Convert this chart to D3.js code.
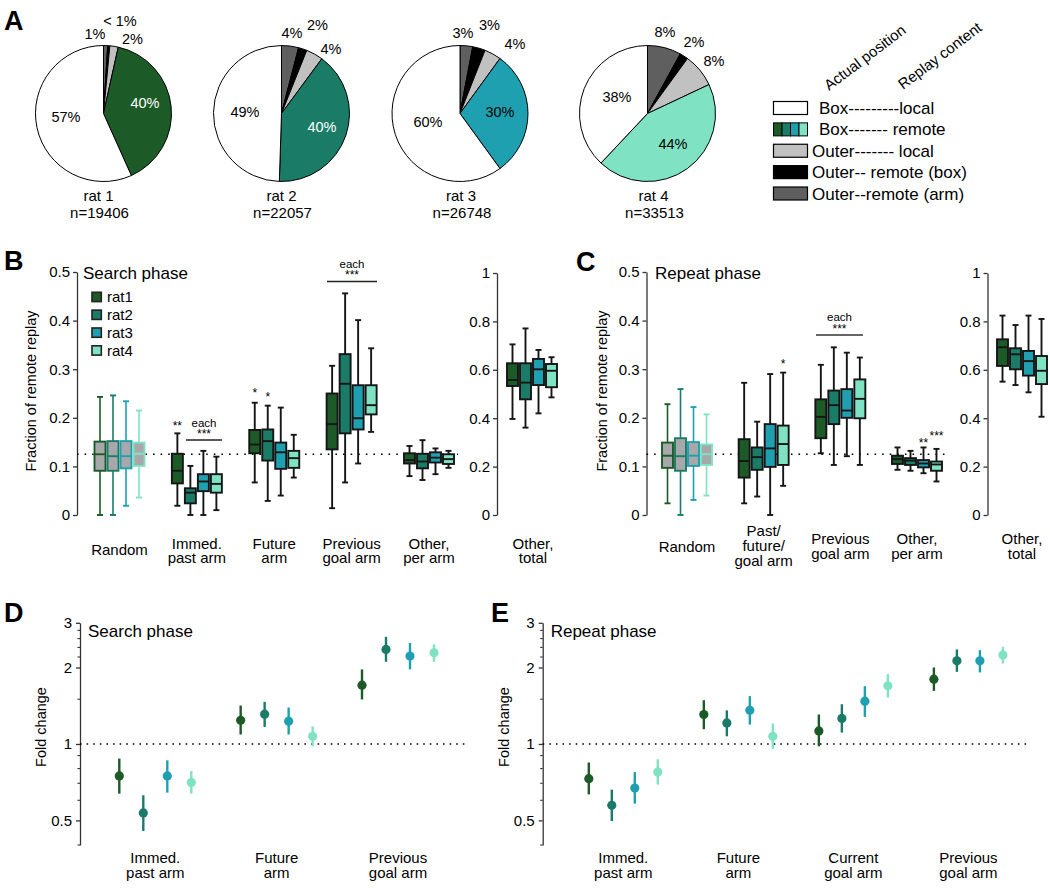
<!DOCTYPE html>
<html><head><meta charset="utf-8">
<script src="https://cdn.jsdelivr.net/npm/d3@7"></script>
<style>body{margin:0;background:#fff}</style>
</head><body>
<script>
// ================= DATA =================
const rats = ["rat1","rat2","rat3","rat4"];
const ratColors = ["#1c5b28","#1a7c67","#1fa0b0","#7fe3c3"];

// Panel A – pies (percent of replay events)
const pieNames = ["rat 1","rat 2","rat 3","rat 4"];
const pieCounts = ["n=19406","n=22057","n=26748","n=33513"];
const pieOuterArm   = [1, 4, 3, 8];
const pieOuterBox   = [0.5, 2, 3, 2];
const pieOuterLocal = [2, 4, 4, 8];
const pieBoxRemote  = [40, 40, 30, 44];
const pieBoxLocal   = [57, 49, 60, 38];
const pieLabels = [["1%","< 1%","2%","40%","57%"],["4%","2%","4%","40%","49%"],["3%","3%","4%","30%","60%"],["8%","2%","8%","44%","38%"]];
const legendLabels = ["Box---------local","Box------- remote","Outer------- local","Outer-- remote (box)","Outer--remote (arm)"];
const legendHeaders = ["Actual position","Replay content"];

// Panel B – Search phase, box stats per rat: [low whisker, Q1, median, Q3, high whisker]
const bCategories = [["Random"],["Immed.","past arm"],["Future","arm"],["Previous","goal arm"],["Other,","per arm"]];
const bRandom     = [[0,0.091,0.125,0.151,0.243],[0,0.091,0.121,0.152,0.246],[0.019,0.096,0.121,0.152,0.234],[0.036,0.101,0.126,0.149,0.215]];
const bImmedPast  = [[0.019,0.065,0.091,0.126,0.168],[0,0.024,0.046,0.055,0.101],[0,0.049,0.069,0.084,0.132],[0.010,0.046,0.064,0.084,0.120]];
const bFuture     = [[0.067,0.127,0.145,0.175,0.231],[0.029,0.112,0.152,0.176,0.225],[0.040,0.095,0.129,0.149,0.221],[0.077,0.097,0.117,0.132,0.165]];
const bPrevGoal   = [[0.014,0.135,0.187,0.250,0.307],[0.067,0.168,0.270,0.331,0.456],[0.106,0.176,0.199,0.267,0.401],[0.171,0.207,0.226,0.267,0.343]];
const bOtherPerArm= [[0.080,0.106,0.113,0.127,0.142],[0.072,0.096,0.110,0.126,0.154],[0.084,0.108,0.118,0.129,0.137],[0.097,0.105,0.115,0.125,0.132]];
const bOtherTotalLabel = ["Other,","total"];
const bOtherTotal = [[0.397,0.533,0.558,0.627,0.705],[0.361,0.478,0.547,0.627,0.771],[0.420,0.537,0.602,0.645,0.682],[0.486,0.528,0.596,0.624,0.652]];

// Panel C – Repeat phase
const cCategories = [["Random"],["Past/","future/","goal arm"],["Previous","goal arm"],["Other,","per arm"]];
const cRandom        = [[0.024,0.097,0.122,0.149,0.228],[0,0.091,0.121,0.158,0.259],[0.031,0.101,0.122,0.150,0.222],[0.040,0.103,0.125,0.145,0.207]];
const cPastFutGoal   = [[0.024,0.077,0.111,0.156,0.272],[0.038,0.093,0.119,0.139,0.192],[0,0.099,0.137,0.187,0.290],[0.060,0.103,0.146,0.184,0.293]];
const cPrevGoal      = [[0.127,0.158,0.202,0.238,0.309],[0.103,0.187,0.226,0.256,0.345],[0.121,0.200,0.215,0.259,0.334],[0.103,0.199,0.239,0.279,0.324]];
const cOtherPerArm   = [[0.093,0.105,0.115,0.122,0.139],[0.091,0.103,0.112,0.117,0.132],[0.086,0.098,0.106,0.113,0.139],[0.069,0.091,0.104,0.110,0.136]];
const cOtherTotal    = [[0.551,0.616,0.693,0.726,0.824],[0.537,0.602,0.664,0.689,0.785],[0.507,0.576,0.636,0.678,0.824],[0.406,0.541,0.596,0.657,0.810]];

// tick labels
const boxTicks = [0,0.1,0.2,0.3,0.4,0.5];
const totalTicks = [0,0.2,0.4,0.6,0.8,1];
const foldTicks = [0.5,1,2,3];
const foldMinorTicks = [0.4,0.6,0.7,0.8,0.9,1.5,2.2,2.4,2.6,2.8];

// Panel D – Search phase fold change per rat: [mean, low CI, high CI]
const dCategories = [["Immed.","past arm"],["Future","arm"],["Previous","goal arm"]];
const dImmedPast = [[0.748,0.637,0.876],[0.535,0.454,0.628],[0.748,0.643,0.862],[0.705,0.637,0.782]];
const dFuture    = [[1.24,1.089,1.417],[1.31,1.167,1.465],[1.229,1.089,1.392],[1.072,0.979,1.174]];
const dPrevGoal  = [[1.704,1.497,1.966],[2.357,2.106,2.643],[2.218,1.966,2.50],[2.285,2.106,2.466]];

// Panel E – Repeat phase fold change
const eCategories = [["Immed.","past arm"],["Future","arm"],["Current","goal arm"],["Previous","goal arm"]];
const eImmedPast   = [[0.730,0.633,0.845],[0.573,0.497,0.661],[0.670,0.582,0.775],[0.775,0.692,0.870]];
const eFuture      = [[1.306,1.143,1.487],[1.21,1.072,1.356],[1.356,1.192,1.543],[1.072,0.956,1.204]];
const eCurrentGoal = [[1.125,0.979,1.306],[1.26,1.109,1.434],[1.474,1.278,1.689],[1.694,1.524,1.884]];
const ePrevGoal    = [[1.80,1.618,2.001],[2.126,1.923,2.357],[2.126,1.913,2.342],[2.238,2.075,2.413]];

// ================= LAYOUT / DRAW =================
const FONT = '"Liberation Sans", Arial, Helvetica, sans-serif';
const svg = d3.select("body").append("svg").attr("width",1050).attr("height",889)
  .style("background","#fff").style("font-family",FONT);

function txt(g,x,y,s,size,anchor,fill,weight){
  return g.append("text").attr("x",x).attr("y",y).attr("font-size",size)
    .attr("text-anchor",anchor||"middle").attr("fill",fill||"#000")
    .attr("font-weight",weight||"normal").text(s);
}
function multiLine(g,x,ys,lines,size){
  lines.forEach((l,i)=>txt(g,x,ys[i],l,size));
}

// panel letters
[["A",4,30],["B",4,270],["C",576,271],["D",4,622],["E",491,622]].forEach(p=>txt(svg,p[1],p[2],p[0],27,"start","#000","bold"));

// ---------- Panel A ----------
const pieLayout = {cx:[103.5,281.5,460,647.5], cy:113.5, r:68,
  labelOffsets:[
    [[-8.5,-79.5],[16.5,-93],[29,-74.5],[41.5,-11],[-37.5,3]],
    [[10.5,-81],[36,-88.5],[49.5,-65],[40.5,13],[-36.5,-2]],
    [[3,-81],[29.5,-88.5],[55,-70],[40,-2],[-32,8]],
    [[17.5,-81.5],[46.5,-71.5],[66.5,-52.5],[25.5,30.5],[-30.5,-16.5]]
  ],
  nameNudge:[-5,0,1,6]
};
const sliceFill = ["#5f5f5f","#000000","#c1c1c1",null,"#ffffff"];
const pieGen = d3.pie().sort(null).value(d=>d);
const arcGen = d3.arc().innerRadius(0).outerRadius(pieLayout.r);
pieNames.forEach((name,i)=>{
  const vals=[pieOuterArm[i],pieOuterBox[i],pieOuterLocal[i],pieBoxRemote[i],pieBoxLocal[i]];
  const g=svg.append("g").attr("transform",`translate(${pieLayout.cx[i]},${pieLayout.cy})`);
  g.selectAll("path").data(pieGen(vals)).join("path").attr("d",arcGen)
    .attr("fill",(d,j)=>j===3?ratColors[i]:sliceFill[j])
    .attr("stroke","#000").attr("stroke-width",1).attr("stroke-linejoin","round");
  pieLabels[i].forEach((l,j)=>{
    const o=pieLayout.labelOffsets[i][j];
    const white = (j===3 && i<2);
    txt(g,o[0],o[1]+5,l,14.5,"middle",white?"#fff":"#000");
  });
  txt(g,pieLayout.nameNudge[i],201-pieLayout.cy,name,15);
  txt(g,pieLayout.nameNudge[i]+1,218-pieLayout.cy,pieCounts[i],15);
});
// legend
const lg=svg.append("g");
const legY=d3.scalePoint().domain(d3.range(legendLabels.length)).range([108,193.5]);
const legFill=["#ffffff",null,"#c1c1c1","#000000","#5f5f5f"];
legendLabels.forEach((l,k)=>{
  const y=legY(k);
  if(k===1){
    const sx=d3.scaleBand().domain(rats).range([773.5,807.5]);
    rats.forEach((r,i)=>lg.append("rect").attr("x",sx(r)).attr("y",y-6.5).attr("width",sx.bandwidth()).attr("height",13)
      .attr("fill",ratColors[i]).attr("stroke","#000").attr("stroke-width",1));
  } else {
    lg.append("rect").attr("x",773.5).attr("y",y-6.5).attr("width",34).attr("height",13)
      .attr("fill",legFill[k]).attr("stroke","#000").attr("stroke-width",1.2);
  }
  txt(lg,k<2?819:812,y+6,l,17,"start");
});
txt(lg,0,0,legendHeaders[0],15,"start").attr("transform","translate(829,91) rotate(-37)");
txt(lg,0,0,legendHeaders[1],15,"start").attr("transform","translate(903,90) rotate(-37)");

// ---------- box plot helpers ----------
const inner = d3.scalePoint().domain(rats).range([-19.5,19.5]);
function drawBoxes(g,cx,y,data,random){
  data.forEach((d,i)=>{
    const x=cx+inner(rats[i]);
    const col = random?ratColors[i]:"#151515";
    const [lo,q1,med,q3,hi]=d;
    const sw = random?1.6:1.9;
    g.append("line").attr("x1",x).attr("x2",x).attr("y1",y(hi)).attr("y2",y(lo)).attr("stroke",col).attr("stroke-width",sw);
    [lo,hi].forEach(v=>g.append("line").attr("x1",x-3).attr("x2",x+3).attr("y1",y(v)).attr("y2",y(v)).attr("stroke",col).attr("stroke-width",1.9));
    g.append("rect").attr("x",x-5.5).attr("width",11).attr("y",y(q3)).attr("height",y(q1)-y(q3))
      .attr("fill",random?"#a8a8aa":ratColors[i]).attr("stroke",col).attr("stroke-width",1.9);
    g.append("line").attr("x1",x-5.5).attr("x2",x+5.5).attr("y1",y(med)).attr("y2",y(med)).attr("stroke",col).attr("stroke-width",1.9);
  });
}
function styleAxis(a){
  a.select(".domain").attr("stroke","#333").attr("stroke-width",1.3);
  a.selectAll(".tick line").attr("stroke","#333").attr("stroke-width",1.3);
  a.selectAll(".tick text").attr("font-size",15).attr("font-family",FONT).attr("fill","#000");
}
function dotted(g,x1,x2,y,dash){
  g.append("line").attr("x1",x1).attr("x2",x2).attr("y1",y).attr("y2",y)
    .attr("stroke","#000").attr("stroke-width",1.6).attr("stroke-dasharray",dash||"1.6,6");
}
function sig(g,x,yBase,s,size){ return txt(g,x,yBase,s,size||12); }

// ---------- Panel B ----------
const gB=svg.append("g");
const yB=d3.scaleLinear().domain([0,0.5]).range([515,272]);
const xB=d3.scalePoint().domain(d3.range(bCategories.length)).range([119.5,429]);
styleAxis(gB.append("g").attr("transform","translate(77,0)").call(d3.axisLeft(yB).tickValues(boxTicks).tickFormat(d3.format("")).tickSize(4).tickSizeOuter(0).tickPadding(3)));
dotted(gB,77,458,yB(0.125));
[bRandom,bImmedPast,bFuture,bPrevGoal,bOtherPerArm].forEach((d,k)=>drawBoxes(gB,xB(k),yB,d,k===0));
bCategories.forEach((c,k)=>multiLine(gB,xB(k),c.length===1?[555]:[549,563],c,15));
txt(gB,83,279,"Search phase",17,"start");
txt(gB,0,0,"Fraction of remote replay",14.5).attr("transform","translate(36,391) rotate(-90)");
// rat legend
const legB=d3.scalePoint().domain(rats).range([297,350.5]);
rats.forEach((r,i)=>{
  gB.append("rect").attr("x",92).attr("y",legB(r)-4.7).attr("width",9.3).attr("height",9.3)
    .attr("fill",ratColors[i]).attr("stroke","#222").attr("stroke-width",1.6);
  txt(gB,107,legB(r)+5.3,r,15,"start");
});
// significance
sig(gB,xB(1)+inner("rat1"),430,"**");
txt(gB,204,427,"each",11.5); sig(gB,204,438,"***");
gB.append("line").attr("x1",186).attr("x2",222).attr("y1",440).attr("y2",440).attr("stroke","#222").attr("stroke-width",1.6);
sig(gB,xB(2)+inner("rat1"),397,"*"); sig(gB,xB(2)+inner("rat2"),401,"*");
txt(gB,352,268,"each",11.5); sig(gB,352,279,"***");
gB.append("line").attr("x1",327).attr("x2",377).attr("y1",281.5).attr("y2",281.5).attr("stroke","#222").attr("stroke-width",1.6);
// other total
const yBt=d3.scaleLinear().domain([0,1]).range([515,273]);
styleAxis(gB.append("g").attr("transform","translate(497,0)").call(d3.axisLeft(yBt).tickValues(totalTicks).tickFormat(d3.format("")).tickSize(4).tickSizeOuter(0).tickPadding(3)));
drawBoxes(gB,532,yBt,bOtherTotal,false);
multiLine(gB,533,[549,563],bOtherTotalLabel,15);

// ---------- Panel C ----------
const gC=svg.append("g");
const xC=d3.scalePoint().domain(d3.range(cCategories.length)).range([687,917]);
styleAxis(gC.append("g").attr("transform","translate(646.5,0)").call(d3.axisLeft(yB).tickValues(boxTicks).tickFormat(d3.format("")).tickSize(4).tickSizeOuter(0).tickPadding(3)));
dotted(gC,646.5,950,yB(0.125));
[cRandom,cPastFutGoal,cPrevGoal,cOtherPerArm].forEach((d,k)=>drawBoxes(gC,xC(k),yB,d,k===0));
cCategories.forEach((c,k)=>multiLine(gC,xC(k),c.length===1?[552]:c.length===2?[544,559]:[536,551,566],c,15));
txt(gC,655,279,"Repeat phase",17,"start");
txt(gC,0,0,"Fraction of remote replay",14.5).attr("transform","translate(607,391) rotate(-90)");
sig(gC,xC(1)+inner("rat4"),368,"*");
txt(gC,839.5,321,"each",11.5); sig(gC,839.5,333,"***");
gC.append("line").attr("x1",816).attr("x2",863).attr("y1",335).attr("y2",335).attr("stroke","#666").attr("stroke-width",2);
sig(gC,xC(3)+inner("rat3"),447,"**"); sig(gC,xC(3)+inner("rat4"),440,"***");
styleAxis(gC.append("g").attr("transform","translate(987.5,0)").call(d3.axisLeft(yBt).tickValues(totalTicks).tickFormat(d3.format("")).tickSize(4).tickSizeOuter(0).tickPadding(3)));
drawBoxes(gC,1022,yBt,cOtherTotal,false);
multiLine(gC,1022,[544,559],bOtherTotalLabel,15);

// ---------- Panels D & E ----------
const yF=d3.scaleLog().domain([0.4,3]).range([845,622.8]);
function foldPanel(g,axisX,lineEnd,groups,cats,range,innerRange,title){
  const ax=g.append("g").attr("transform",`translate(${axisX},0)`);
  ax.call(d3.axisLeft(yF).tickValues(foldTicks).tickFormat(d=>String(d)).tickSize(4).tickSizeOuter(0).tickPadding(4));
  styleAxis(ax);
  foldMinorTicks.forEach(v=>ax.append("line").attr("x1",-2.5).attr("x2",0).attr("y1",yF(v)).attr("y2",yF(v)).attr("stroke","#333").attr("stroke-width",1.1));
  dotted(g,axisX,lineEnd,yF(1),"1.6,5");
  const xs=d3.scalePoint().domain(d3.range(cats.length)).range(range);
  const xi=d3.scalePoint().domain(rats).range(innerRange);
  groups.forEach((grp,k)=>{
    grp.forEach((d,i)=>{
      const x=xs(k)+xi(rats[i]);
      g.append("line").attr("x1",x).attr("x2",x).attr("y1",yF(d[1])).attr("y2",yF(d[2])).attr("stroke",ratColors[i]).attr("stroke-width",2.4);
      g.append("circle").attr("cx",x).attr("cy",yF(d[0])).attr("r",4.6).attr("fill",ratColors[i]);
    });
    multiLine(g,xs(k),[863,878],cats[k],15);
  });
  txt(g,axisX+8,636.5,title,17,"start");
  txt(g,0,0,"Fold change",14.5).attr("transform",`translate(${axisX-34},727) rotate(-90)`);
}
foldPanel(svg.append("g"),80,468,[dImmedPast,dFuture,dPrevGoal],dCategories,[155.3,398],[-36,36],"Search phase");
foldPanel(svg.append("g"),542.7,1027,[eImmedPast,eFuture,eCurrentGoal,ePrevGoal],eCategories,[623.3,968.4],[-34.5,34.5],"Repeat phase");
</script>
</body></html>
